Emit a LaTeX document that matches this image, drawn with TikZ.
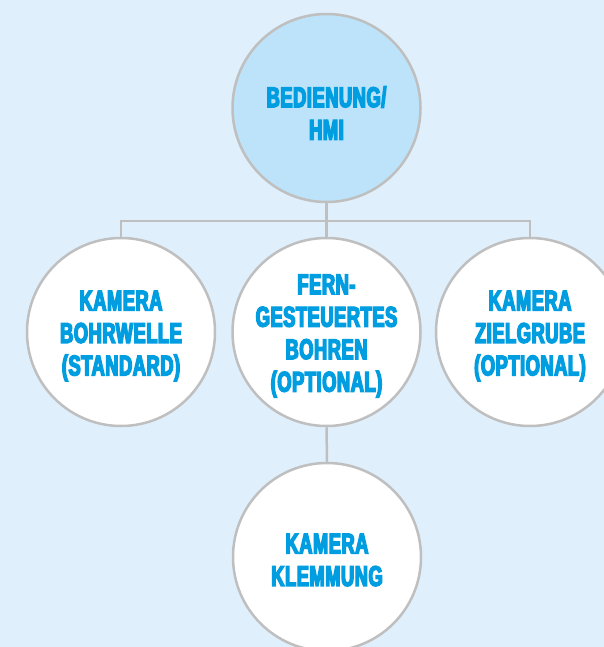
\documentclass[tikz,border=0pt]{standalone}
\usepackage{fontspec}
\setmainfont{Liberation Sans}[FakeStretch=0.64, FakeBold=5, LetterSpace=2]
\definecolor{bgblue}{HTML}{DFF0FC}
\definecolor{topfill}{HTML}{BCE3F9}
\definecolor{txtblue}{HTML}{009EE0}
\definecolor{rimgray}{HTML}{BFBFBF}
\tikzset{
  bubble/.style={circle, draw=rimgray, line width=2.5pt, fill=white,
    minimum size=188pt, inner sep=0pt},
  topbubble/.style={bubble, fill=topfill},
  txt/.style={text=txtblue, align=center, inner sep=0pt,
    font=\bfseries\fontsize{28.5}{32.5}\selectfont},
  link/.style={draw=rimgray, line width=2.5pt}
}
\begin{document}
\begin{tikzpicture}[x=1pt,y=-1pt]
\fill[bgblue] (0,0) rectangle (604,647);
\useasboundingbox (0,0) rectangle (604,647);
\clip (0,0) rectangle (604,647);
\node[topbubble, label={[txt, yshift=-5pt]center:{BEDIENUNG/\\HMI}}] (top) at (326.5,108) {};
\node[bubble, label={[txt, yshift=-4pt]center:{KAMERA\\BOHRWELLE\\(STANDARD)}}] (left) at (121,332) {};
\node[bubble, label={[txt, yshift=-4pt]center:{FERN-\\GESTEUERTES\\BOHREN\\(OPTIONAL)}}] (mid) at (326.5,332) {};
\node[bubble, label={[txt, yshift=-4pt]center:{KAMERA\\ZIELGRUBE\\(OPTIONAL)}}] (right) at (530,332) {};
\node[bubble, label={[txt, yshift=-3pt]center:{KAMERA\\KLEMMUNG}}] (bot) at (327,557) {};
\coordinate (bar) at (326.5,221);
\draw[link] (top.south) -- (mid.north);
\draw[link] (left.north) |- (bar) -| (right.north);
\draw[link] (mid.south) -- (bot.north);
\end{tikzpicture}
\end{document}
